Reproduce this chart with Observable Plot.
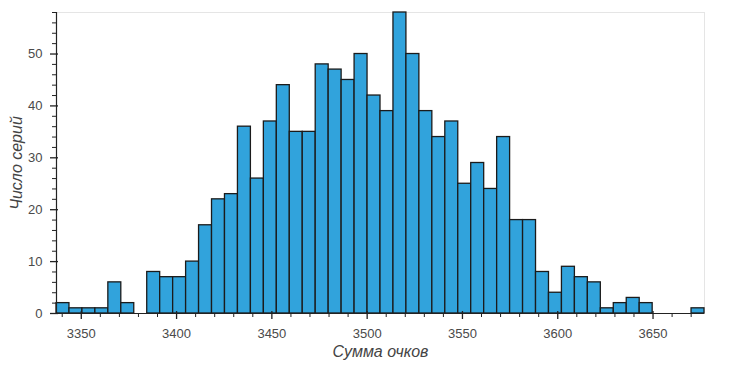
<!DOCTYPE html>
<html><head><meta charset="utf-8">
<script src="https://cdn.jsdelivr.net/npm/d3@7"></script>
<script src="https://cdn.jsdelivr.net/npm/@observablehq/plot@0.6"></script>
<style>body{margin:0;background:#fff} svg{display:block}</style>
</head><body><div id="chart"></div>
<script>
// histogram counts per bin (50 bins)
const counts = [2,1,1,1,6,2,0,8,7,7,10,17,22,23,36,26,37,44,35,35,48,47,45,50,42,39,58,50,39,34,37,25,29,24,34,18,18,8,4,9,7,6,1,2,3,2,0,0,0,1];
const binStart = 3337;
const binWidth = 6.8;
const yMax = 58;
const xMajorTicks = [3350,3400,3450,3500,3550,3600,3650];
const xMinorTicks = [3340,3360,3370,3380,3390,3410,3420,3430,3440,3460,3470,3480,3490,3510,3520,3530,3540,3560,3570,3580,3590,3610,3620,3630,3640,3660,3670];
const yMajorTicks = [0,10,20,30,40,50];
const yMinorTicks = [2,4,6,8,12,14,16,18,22,24,26,28,32,34,36,38,42,44,46,48,52,54,56,58];
const xLabel = "Сумма очков";
const yLabel = "Число серий";

const bins = counts.map((c, i) => ({x1: binStart + i*binWidth, x2: binStart + (i+1)*binWidth, count: c})).filter(d => d.count > 0);
const xMin = binStart, xMax = binStart + counts.length*binWidth;
const font = "'Liberation Sans', Arial, Helvetica, sans-serif";
const blank = () => "";

const chart = Plot.plot({
  width: 740, height: 369,
  marginLeft: 56, marginRight: 36, marginTop: 12, marginBottom: 56,
  style: {fontFamily: font, background: "#fff", color: "#222"},
  x: {domain: [xMin, xMax]},
  y: {domain: [0, yMax]},
  marks: [
    Plot.frame({stroke: "#e5e5e5"}),
    Plot.rectY(bins, {x1: "x1", x2: "x2", y: "count", fill: "#31a3dc", stroke: "#1b1b1b", strokeWidth: 1.3, inset: 0}),
    Plot.ruleY([0], {stroke: "#222", strokeWidth: 1.2}),
    Plot.ruleX([xMin], {stroke: "#222", strokeWidth: 1.2}),
    Plot.axisX({ticks: xMinorTicks, tickSize: 4, tickFormat: blank, label: null, stroke: "#222"}),
    Plot.axisX({ticks: xMajorTicks, tickSize: 8, dy: -2, tickFormat: blank, label: null, stroke: "#222", strokeWidth: 1.3}),
    Plot.axisX({ticks: xMajorTicks, tickSize: 0, tickPadding: 15, label: null, fill: "#4a4a4a", fontSize: 13, tickFormat: d => String(d)}),
    Plot.axisY({ticks: yMinorTicks, tickSize: 4, tickFormat: blank, label: null, stroke: "#222"}),
    Plot.axisY({ticks: yMajorTicks, tickSize: 8, dx: 2, tickFormat: blank, label: null, stroke: "#222", strokeWidth: 1.3}),
    Plot.axisY({ticks: yMajorTicks, tickSize: 0, tickPadding: 14, label: null, fill: "#4a4a4a", fontSize: 13, tickFormat: d => String(d)}),
    Plot.text([xLabel], {frameAnchor: "bottom", textAnchor: "middle", dy: 43, fontSize: 16, fontStyle: "italic", fill: "#444"}),
    Plot.text([yLabel], {frameAnchor: "left", textAnchor: "middle", dx: -40, rotate: -90, fontSize: 16, fontStyle: "italic", fill: "#444"})
  ]
});
document.getElementById("chart").appendChild(chart);
</script>
</body></html>
